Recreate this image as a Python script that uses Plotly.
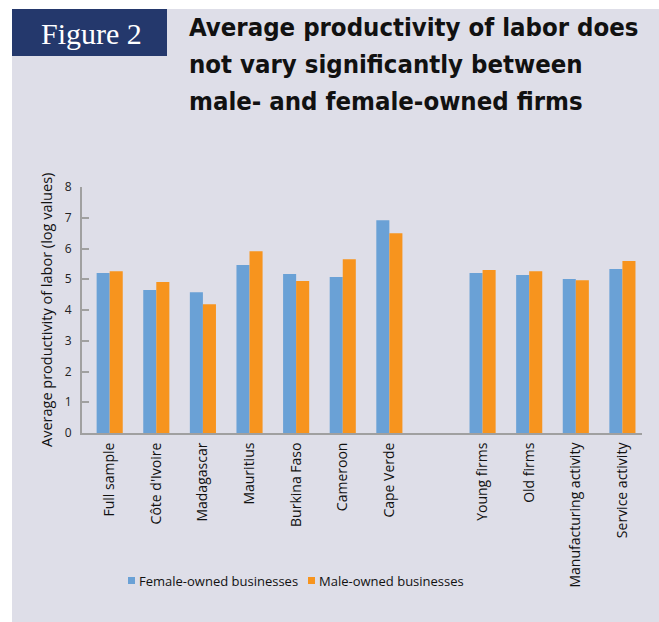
import plotly.graph_objects as go

categories = ["Full sample", "Côte d'Ivoire", "Madagascar", "Mauritius", "Burkina Faso",
              "Cameroon", "Cape Verde", "", "Young firms", "Old firms",
              "Manufacturing activity", "Service activity"]
female = [5.20, 4.65, 4.58, 5.46, 5.17, 5.07, 6.92, None, 5.20, 5.14, 5.01, 5.33]
male = [5.26, 4.91, 4.19, 5.91, 4.94, 5.65, 6.50, None, 5.30, 5.26, 4.97, 5.59]
series_names = ["Female-owned businesses", "Male-owned businesses"]
y_ticks = [0, 1, 2, 3, 4, 5, 6, 7, 8]

BLUE = "#6aa1d6"
ORANGE = "#f7941e"
BG = "#dedee8"
NAVY = "#24386c"

W, H = 659, 622
L, R, T, B = 82, 17, 187, 189
pw, ph = W - L - R, H - T - B

def px(x):
    return (x - L) / pw

def py(y):
    return (H - B - y) / ph

xs = list(range(len(categories)))

fig = go.Figure()
fig.add_trace(go.Bar(x=xs, y=female, name=series_names[0], marker_color=BLUE,
                     marker_line_width=0, showlegend=False))
fig.add_trace(go.Bar(x=xs, y=male, name=series_names[1], marker_color=ORANGE,
                     marker_line_width=0, showlegend=False))

shapes = [
    dict(type="rect", xref="paper", yref="paper", x0=px(12), x1=px(659), y0=py(622), y1=py(9),
         fillcolor=BG, line_width=0, layer="below"),
    dict(type="rect", xref="paper", yref="paper", x0=px(12), x1=px(167), y0=py(56), y1=py(9),
         fillcolor=NAVY, line_width=0, layer="below"),
]
annotations = [
    dict(text="Figure 2", xref="paper", yref="paper", x=px(91), y=py(33), xanchor="center",
         yanchor="middle", showarrow=False,
         font=dict(family="Liberation Serif", size=30, color="white")),
]
title_lines = ["Average productivity of labor does", "not vary significantly between",
               "male- and female-owned firms"]
for i, line in enumerate(title_lines):
    annotations.append(dict(text="<b>" + line + "</b>", xref="paper", yref="paper",
                            x=px(187), y=py(27 + 37 * i), xanchor="left", yanchor="middle",
                            showarrow=False,
                            font=dict(family="DejaVu Sans Condensed, Liberation Sans Narrow, sans-serif",
                                      size=25.5, color="#111111")))
annotations.append(dict(text="Average productivity of labor (log values)", xref="paper", yref="paper",
                        x=px(46), y=0.5, xanchor="center", yanchor="middle", textangle=-90,
                        showarrow=False, font=dict(family="Open Sans", size=14.5, color="#111111")))
# legend
leg = [(128, series_names[0], BLUE), (308, series_names[1], ORANGE)]
for x0, name, col in leg:
    shapes.append(dict(type="rect", xref="paper", yref="paper", x0=px(x0), x1=px(x0 + 7),
                       y0=py(584), y1=py(577), fillcolor=col, line_width=0))
    annotations.append(dict(text=name, xref="paper", yref="paper", x=px(x0 + 9), y=py(580.5),
                            xanchor="left", yanchor="middle", showarrow=False,
                            font=dict(family="Open Sans", size=13, color="#111111")))

fig.update_layout(
    width=W, height=H,
    margin=dict(l=L, r=R, t=T, b=B),
    paper_bgcolor="white", plot_bgcolor=BG,
    barmode="group", bargap=0.44, bargroupgap=0,
    shapes=shapes, annotations=annotations,
    showlegend=False,
)
fig.update_xaxes(range=[-0.594, 11.42], tickmode="array", tickvals=xs, ticktext=categories,
                 tickangle=-90, showgrid=False, zeroline=False, showline=True,
                 linecolor="#a0a0a0", linewidth=2, ticks="", ticklabelstandoff=2,
                 tickfont=dict(family="Open Sans", size=14, color="#111111"))
fig.update_yaxes(range=[0, 8], tickvals=y_ticks, showgrid=False, zeroline=False, showline=True,
                 linecolor="#a0a0a0", linewidth=2, ticks="inside", ticklen=7, tickcolor="#a0a0a0",
                 tickwidth=2, ticklabelstandoff=6,
                 tickfont=dict(family="Open Sans", size=12, color="#222222"))

fig.write_html("out.html")
